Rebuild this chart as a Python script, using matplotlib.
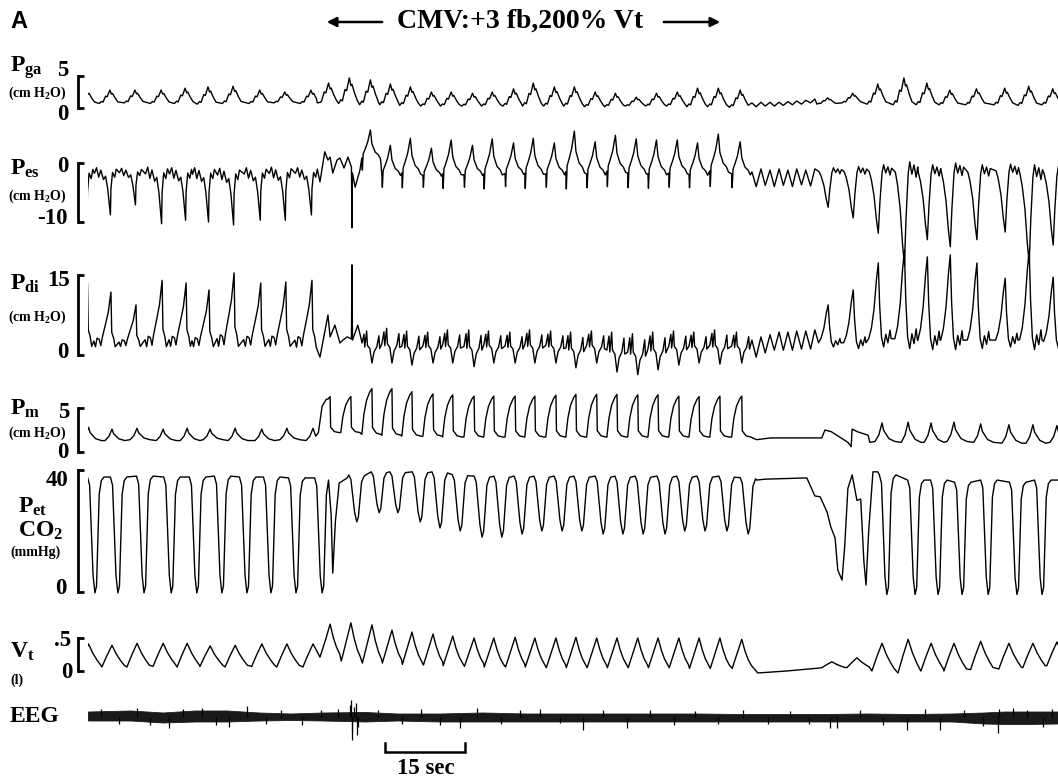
import numpy as np
import matplotlib.pyplot as plt
from matplotlib.patches import FancyArrowPatch

plt.rcParams['font.family'] = ['Liberation Serif', 'DejaVu Serif']
plt.rcParams['font.weight'] = 'bold'
plt.rcParams['mathtext.default'] = 'regular'

# breath times (s, end of inspiration = tidal volume peak)
spont1_t = [0.1, 4.5, 9.2, 14.1, 18.6, 22.9, 27.6, 32.6, 37.3, 42.2]
cmv_t = [45.4, 49.3, 53.25, 57.0, 60.75, 64.7, 68.4, 72.4, 76.1, 80.1, 83.8,
         87.75, 91.5, 95.4, 99.2, 103.1, 106.9, 110.8, 114.6, 118.5, 122.6]
spont3_t = [139.5, 144.2, 148.9, 153.8, 158.1, 162.4, 167.4, 172.7, 177.2, 181.7]
# cardiac ripple during the apnea (s)
ripple_t = [124.5, 125.3, 126.2, 127.0, 127.9, 128.7, 129.6, 130.4, 131.25,
            132.1, 132.9, 133.8, 134.6, 135.5, 136.3]

# Pga (cmH2O)
pga_lo1 = [0.7, 0.7, 0.8, 0.7, 0.7, 0.6, 0.7, 0.7, 0.8, 0.7]
pga_hi1 = [2.8, 2.8, 2.8, 2.8, 3.1, 3.3, 3.4, 2.8, 2.5, 2.8]
pga_lo2 = [0.8, 0.7, 0.5, 0.5, 0.4, 0.3, 0.3, 0.3, 0.3, 0.3, 0.3, 0.3, 0.3, 0.2,
           0.2, 0.3, 0.3, 0.3, 0.2, 0.2, 0.1]
pga_hi2 = [3.9, 4.7, 4.4, 3.75, 3.3, 2.5, 2.5, 2.3, 2.5, 3.0, 3.9, 3.3, 3.3, 2.5,
           2.3, 1.7, 2.3, 2.5, 3.1, 3.1, 2.8]
pga_lo3 = [0.6, 0.8, 0.6, 0.5, 0.5, 0.5, 0.5, 0.5, 0.4, 0.5]
pga_hi3 = [1.6, 2.3, 3.75, 4.7, 3.9, 2.8, 3.0, 3.1, 3.4, 3.0]
pga_fix_t = [43.0, 43.6]
pga_fix_v = [0.8, 0.9]
pga_apnea = [0.8, 0.2, 0.9, 0.3, 0.9, 0.3, 0.9, 0.4, 1.0, 0.5, 1.1, 0.6, 1.2, 0.8, 1.4]

# Pes (cmH2O)
pes_lo1 = [-10.0, -8.8, -7.1, -10.3, -9.7, -10.0, -10.5, -9.7, -9.7, -8.8]
pes_hi1 = [-0.8, -0.8, -0.9, -0.7, -0.8, -0.8, -0.9, -0.8, -0.7, -0.8]
pes_lo2 = [-4.0, -4.0, -1.2, -4.1, -4.2, -4.1, -4.3, -4.1, -4.4, -4.0, -4.3,
           -4.1, -4.4, -4.2, -4.0, -4.2, -4.3, -4.1, -4.2, -4.0, -4.2]
pes_hi2 = [1.0, 1.0, 5.6, 3.0, 4.2, 2.5, 3.9, 3.0, 4.1, 3.4, 4.2, 3.4, 5.4, 3.6,
           4.7, 4.1, 3.9, 3.9, 3.4, 4.9, 3.6]
pes_lo3 = [-7.5, -9.3, -11.9, -17.3, -13.0, -14.2, -13.0, -11.7, -17.0, -13.9]
pes_hi3 = [-0.8, -0.6, -0.3, 0.2, -0.3, 0.0, -0.3, -0.2, -0.3, -0.5]
pes_fix_t = [43.5, 44.4, 45.0, 45.4, 45.9, 46.7, 47.25, 48.0, 48.75, 49.4, 49.5,
             49.6, 50.1, 51.0]
pes_fix_v = [-3.2, 1.9, 0.5, 1.0, -1.7, 0.5, 0.85, -0.85, 1.0, -0.7, -11.0,
             -1.7, -4.1, -1.2]
pes_apnea = [-1.5, -4.0, -1.0, -3.8, -1.2, -4.0, -1.0, -3.8, -1.2, -4.0, -1.0,
             -3.7, -1.2, -3.9, -1.0]

# Pdi (cmH2O)
pdi_lo1 = [1.0, 1.0, 1.2, 0.9, 1.0, 1.0, 0.9, 1.0, 1.0, 0.8]
pdi_hi1 = [13.5, 11.8, 9.4, 14.0, 13.5, 12.2, 15.4, 13.5, 13.7, 14.0]
pdi_lo2 = [-1.5, -1.5, -1.5, -1.5, -1.9, -1.5, -1.5, -2.2, -1.5, -1.5, -1.5,
           -1.5, -2.4, -1.5, -3.2, -3.7, -2.8, -1.9, -1.5, -1.7, -1.5]
pdi_hi2 = [4.5, 4.5, 4.5, 5.0, 4.5, 4.3, 4.7, 4.7, 4.5, 4.3, 4.7, 4.5, 4.3, 4.5,
           4.3, 4.0, 4.3, 4.5, 4.3, 4.7, 4.3]
pdi_lo3 = [1.5, 1.2, 1.5, 1.2, 1.0, 1.0, 1.2, 1.5, 1.0, 1.2]
pdi_hi3 = [9.4, 12.2, 17.25, 19.7, 18.4, 18.75, 17.25, 14.4, 19.7, 14.6]
pdi_fix_t = [43.5, 44.1, 45.0, 45.4, 46.3, 47.25, 47.8, 48.6, 49.4, 49.5, 49.6,
             50.6, 51.4]
pdi_fix_v = [-0.4, 2.8, 7.5, 3.4, 5.6, 2.25, 2.8, 3.4, 3.0, 16.9, 2.8, 5.6, 2.25]
pdi_apnea = [2.8, -0.4, 3.4, 0.4, 3.8, 0.9, 4.3, 0.9, 4.3, 0.9, 4.5, 1.1, 4.5,
             1.1, 4.7]

# Pm (cmH2O)
pm_lo1 = [1.3, 1.3, 1.4, 1.3, 1.3, 1.4, 1.3, 1.3, 1.4, 1.3]
pm_hi1 = [2.8, 2.6, 2.7, 2.6, 2.7, 2.6, 2.7, 2.6, 2.7, 2.7]
pm_lo2 = [2.2, 2.2, 2.0, 1.9, 1.8, 1.8, 1.7, 1.7, 1.7, 1.7, 1.7, 1.7, 1.7, 1.7,
          1.7, 1.7, 1.7, 1.7, 1.7, 1.7, 1.7]
pm_hi2 = [6.3, 6.3, 7.2, 7.2, 6.85, 6.6, 6.5, 6.35, 6.35, 6.35, 6.35, 6.45,
          6.55, 6.55, 6.55, 6.5, 6.5, 6.35, 6.3, 6.35, 6.35]
pm_lo3 = [1.6, 1.1, 1.2, 1.1, 1.1, 1.2, 1.1, 1.0, 1.0, 1.1]
pm_hi3 = [2.5, 2.6, 3.3, 3.4, 3.3, 3.4, 3.2, 3.1, 3.1, 3.0]
pm_fix1_t = [42.7, 43.2, 43.9, 44.7]
pm_fix1_v = [1.8, 2.2, 5.2, 6.0]
pm_fix2_t = [125.4, 128.0, 137.6, 138.2, 139.4, 142.5, 143.1, 143.3, 144.3, 146.3]
pm_fix2_v = [1.4, 1.6, 1.6, 2.5, 2.3, 1.1, 0.6, 2.6, 2.3, 1.9]

# PetCO2 (mmHg): dip times, dip level, plateau level
co2_t1 = [1.3, 5.6, 10.5, 15.6, 20.4, 25.1, 29.8, 34.3, 39.0, 43.9]
co2_lo1 = [-0.3, -0.3, -0.3, -0.3, -0.3, -0.3, -0.3, -0.3, -0.3, -0.3]
co2_hi1 = [37.7, 37.7, 38.0, 37.7, 37.7, 38.0, 37.7, 37.7, 37.4, 37.4]
co2_t2 = [50.4, 54.6, 58.1, 62.3, 66.0, 69.8, 73.9, 77.6, 81.4, 85.1, 88.9,
          92.6, 96.6, 100.3, 104.1, 108.2, 111.9, 115.7, 119.8, 123.8]
co2_lo2 = [23, 26, 26, 23, 21, 20, 18, 18, 19, 20, 20, 20, 19, 19, 19, 19, 20,
           20, 20, 19]
co2_hi2 = [38.4, 39.4, 39.4, 39.4, 39.4, 38.5, 38, 38, 38, 38, 38, 38, 38, 38,
           38, 38, 38, 38, 38, 37.5]
co2_t3 = [149.8, 155.1, 159.4, 163.9, 168.8, 174.2, 178.9]
co2_lo3 = [-0.8, -0.8, -0.8, -0.8, -0.8, -0.8, -0.8]
co2_hi3 = [38.4, 36.7, 36.7, 36.0, 36.7, 36.0, 36.7]
co2_fix1_t = [45.1, 45.6, 45.9, 46.4, 47.1, 48.6]
co2_fix1_v = [36.7, 25.2, 6.2, 23.3, 35.7, 37.4]
co2_fix2_t = [125.4, 127.0, 134.8, 136.3, 137.3, 138.6, 139.3, 140.1, 140.6,
              141.4, 141.9, 142.5, 143.3, 144.2, 144.9, 145.5, 145.9, 146.4,
              147.2, 148.1]
co2_fix2_v = [36.7, 37.0, 37.4, 31.5, 31.2, 26.2, 21.3, 17.7, 7.2, 3.9, 15, 34,
              38.4, 30.0, 30.5, 10, 2.3, 20, 39.4, 39.4]

# Vt (l)
vt_lo1 = [0.06, 0.06, 0.06, 0.07, 0.06, 0.07, 0.06, 0.07, 0.06, 0.06]
vt_hi1 = [0.41, 0.39, 0.42, 0.42, 0.42, 0.38, 0.39, 0.41, 0.41, 0.41]
vt_lo2 = [0.21, 0.15, 0.12, 0.12, 0.10, 0.09, 0.08, 0.07, 0.06, 0.06, 0.06,
          0.05, 0.05, 0.05, 0.05, 0.05, 0.05, 0.05, 0.04, 0.04, 0.04]
vt_hi2 = [0.71, 0.73, 0.70, 0.62, 0.59, 0.56, 0.53, 0.50, 0.50, 0.51, 0.50,
          0.50, 0.51, 0.50, 0.50, 0.50, 0.50, 0.50, 0.50, 0.50, 0.48]
vt_lo3 = [0.05, 0.05, 0.00, -0.03, 0.00, 0.00, 0.02, 0.03, 0.05, 0.08]
vt_hi3 = [0.14, 0.20, 0.42, 0.48, 0.42, 0.42, 0.45, 0.42, 0.42, 0.44]
vt_fix1_t = [42.8, 43.5, 44.5]
vt_fix1_v = [0.32, 0.21, 0.46]
vt_fix2_t = [125.6, 131.0, 136.5]
vt_fix2_v = [-0.03, 0.0, 0.04]

# EEG (uV): envelope of the dense trace and single deflections
eeg_t = [0, 8, 14, 20, 26, 32, 38, 44, 52, 58, 66, 74, 82, 90, 98, 106, 114,
         122, 130, 138, 146, 154, 162, 168, 172, 176, 182]
eeg_up = [5.5, 6.5, 4.5, 6.5, 6.5, 4.5, 3.5, 4.5, 5, 3.5, 3.5, 4.5, 3.5, 3.5,
          3.5, 3.5, 3.5, 3, 3, 3, 3.5, 3, 3.5, 4.5, 5.5, 5.5, 5.5]
eeg_dn = [-3.5, -3.5, -5.5, -4.5, -4.5, -3.5, -3, -3.5, -4.5, -3.5, -4.5, -4.5,
          -4.5, -4.5, -4.5, -4.5, -4.5, -4.5, -4.5, -4.5, -4.5, -4.5, -4.5,
          -6.5, -7, -7, -6.5]
eeg_spk_t = [2.5, 5.8, 9.1, 11.7, 15.2, 17.9, 21.3, 24.0, 26.5, 29.9, 33.4,
             36.2, 40.1, 43.6, 46.8, 49.2, 49.4, 49.5, 49.6, 49.8, 50.2, 50.4,
             50.7, 54.3, 58.8, 62.5, 66.1, 69.8, 72.9, 77.4, 81.0, 84.8, 88.6,
             92.8, 96.5, 101.1, 105.3, 109.9, 113.8, 118.2, 122.9, 127.5, 131.6,
             135.2, 139.1, 140.4, 144.7, 149.0, 153.6, 156.9, 159.8, 164.2,
             167.8, 170.6, 170.8, 173.5, 176.1, 179.1, 180.8]
eeg_spk_v = [8, -7, 9, -8, -11, 8, 9, -8, -10, 11, -7, 7, -8, 7, 8, 12, 17, -15,
             -23, 10, 14, -18, -10, 7, -7, 8, -8, -11, 9, -7, 7, 8, -6, -13, 7,
             -11, 7, -8, 6, -7, 7, -7, 6, -7, -11, -11, 7, -8, -13, 8, -13, 7,
             -9, -16, 8, 9, 7, -10, 8]

# waveform shapes within one breath: (time offset s, fraction lo->hi)
VT_SP = [(-1.9, 0.0), (-1.0, 0.5), (0.0, 1.0), (0.8, 0.6), (1.6, 0.3), (2.3, 0.08)]
VT_CMV = [(-1.8, 0.0), (-0.9, 0.5), (0.0, 1.0), (0.6, 0.6), (1.2, 0.3), (1.8, 0.1)]
PGA = [(-2.0, 0.0), (-1.6, 0.15), (-1.3, 0.1), (-0.8, 0.55), (-0.5, 0.5),
       (0.0, 1.0), (0.3, 0.7), (0.5, 0.75), (1.0, 0.4), (1.5, 0.12)]
PES_SP = [(-3.0, 0.88), (-2.6, 1.0), (-2.2, 0.8), (-1.8, 0.95), (-1.3, 0.75),
          (-0.9, 0.82), (-0.5, 0.55), (0.0, 0.0), (0.1, 0.55), (0.4, 0.9),
          (0.8, 0.8), (1.1, 0.97)]
PES_CMV = [(-1.6, 0.3), (-1.5, 0.0), (-1.35, 0.4), (-0.9, 0.55), (-0.5, 0.7),
           (0.0, 1.0), (0.3, 0.65), (0.9, 0.45), (1.5, 0.38), (1.9, 0.28)]
PES_SP3 = [(-1.7, 0.9), (-1.3, 0.78), (-0.8, 0.55), (-0.35, 0.2), (0.0, 0.0),
           (0.3, 0.45), (0.7, 0.88), (1.0, 1.0), (1.4, 0.88), (1.8, 0.97),
           (2.2, 0.85), (2.5, 0.95)]
PDI_SP = [(-3.2, 0.15), (-2.9, 0.05), (-2.6, 0.2), (-2.2, 0.18), (-1.9, 0.07),
          (-1.6, 0.22), (-1.0, 0.45), (-0.5, 0.65), (0.0, 1.0), (0.15, 0.3),
          (0.5, 0.2), (0.8, 0.05)]
PDI_CMV = [(-1.9, 0.55), (-1.5, 0.9), (-1.35, 0.5), (-1.0, 1.0), (-0.85, 0.55),
           (-0.4, 0.45), (0.0, 0.0), (0.4, 0.35), (0.9, 0.5), (1.3, 0.85),
           (1.45, 0.45)]
PDI_SP3 = [(-1.8, 0.1), (-1.3, 0.22), (-0.8, 0.45), (-0.35, 0.8), (0.0, 1.0),
           (0.25, 0.5), (0.6, 0.12), (1.0, 0.0), (1.4, 0.15), (1.8, 0.05),
           (2.2, 0.2), (2.4, 0.1)]
PM_SP = [(-1.3, 0.0), (-0.6, 0.35), (0.0, 1.0), (0.3, 0.6), (1.3, 0.15), (2.4, 0.0)]
PM_CMV = [(-1.9, 0.0), (-1.5, 0.45), (-1.0, 0.75), (-0.4, 0.93), (0.0, 1.0),
          (0.1, 0.15), (0.8, 0.03), (1.7, 0.0)]
CO2_SP = [(-1.4, 1.0), (-1.0, 0.93), (-0.35, 0.15), (0.0, 0.0), (0.3, 0.06),
          (0.8, 0.85), (1.2, 0.97), (1.7, 1.0)]
CO2_CMV = [(-1.5, 1.0), (-1.1, 0.9), (-0.4, 0.2), (0.0, 0.0), (0.3, 0.1),
           (0.9, 0.85), (1.4, 0.98)]

W, H = 1058, 779
T_END = 181.9


def breaths(times, lo, hi, shape, shift=0.0):
    t, v = [], []
    for tb, a, b in zip(times, lo, hi):
        for dt, f in shape:
            t.append(tb + shift + dt)
            v.append(a + f * (b - a))
    return t, v


def build(parts, fixes=()):
    t = np.concatenate([np.asarray(p[0], float) for p in parts])
    v = np.concatenate([np.asarray(p[1], float) for p in parts])
    for ft, fv in fixes:
        keep = (t < ft[0]) | (t > ft[-1])
        t = np.concatenate([t[keep], ft])
        v = np.concatenate([v[keep], fv])
    o = np.argsort(t, kind='stable')
    t, v = t[o], v[o]
    if t[-1] < T_END:
        t = np.append(t, T_END + 1)
        v = np.append(v, v[-1])
    return t, v


fig = plt.figure(figsize=(W / 100, H / 100), dpi=100)


def band(top, bot, y_hi=None, v_hi=None, y_lo=None, v_lo=None, lim=None):
    ax = fig.add_axes([88 / W, 1 - bot / H, 970 / W, (bot - top) / H])
    ax.patch.set_alpha(0)
    ax.set_xlim(0, T_END)
    ax.set_xticks([])
    for sp in ['top', 'right', 'bottom']:
        ax.spines[sp].set_visible(False)
    if lim is not None:
        ax.set_ylim(*lim)
        ax.spines['left'].set_visible(False)
        ax.set_yticks([])
        return ax
    s = (v_hi - v_lo) / (y_lo - y_hi)
    ax.set_ylim(v_lo - (bot - y_lo) * s, v_hi + (y_hi - top) * s)
    ax.spines['left'].set_position(('outward', 7.5))
    ax.spines['left'].set_bounds(v_lo, v_hi)
    ax.spines['left'].set_linewidth(2.0)
    ax.set_yticks([v_lo, v_hi])
    ax.set_yticklabels([])
    ax.tick_params(axis='y', direction='in', length=4.5, width=2.0)
    return ax


LW = 1.0

ax = band(55, 130, 76, 5, 108, 0)
t, v = build([breaths(spont1_t, pga_lo1, pga_hi1, PGA, -0.4),
              breaths(cmv_t, pga_lo2, pga_hi2, PGA, -0.3),
              breaths(spont3_t, pga_lo3, pga_hi3, PGA, -0.8)],
             [(pga_fix_t, pga_fix_v), (ripple_t, pga_apnea)])
ax.plot(t, v, color='k', lw=LW)

ax = band(120, 285, 163, 0, 222, -10)
t, v = build([breaths(spont1_t, pes_lo1, pes_hi1, PES_SP, -0.3),
              breaths(cmv_t, pes_lo2, pes_hi2, PES_CMV, -0.3),
              breaths(spont3_t, pes_lo3, pes_hi3, PES_SP3, -0.7)],
             [(pes_fix_t, pes_fix_v), (ripple_t, pes_apnea)])
ax.plot(t, v, color='k', lw=LW)

ax = band(240, 385, 275, 15, 355, 0)
t, v = build([breaths(spont1_t, pdi_lo1, pdi_hi1, PDI_SP, -0.2),
              breaths(cmv_t, pdi_lo2, pdi_hi2, PDI_CMV, 0.0),
              breaths(spont3_t, pdi_lo3, pdi_hi3, PDI_SP3, -0.7)],
             [(pdi_fix_t, pdi_fix_v), (ripple_t, pdi_apnea)])
ax.plot(t, v, color='k', lw=LW)

ax = band(375, 462, 408, 5, 452, 0)
t, v = build([breaths(spont1_t, pm_lo1, pm_hi1, PM_SP),
              breaths(cmv_t, pm_lo2, pm_hi2, PM_CMV),
              breaths(spont3_t, pm_lo3, pm_hi3, PM_SP)],
             [(pm_fix1_t, pm_fix1_v), (pm_fix2_t, pm_fix2_v)])
ax.plot(t, v, color='k', lw=LW)

ax = band(462, 605, 470, 40, 592, 0)
t, v = build([breaths(co2_t1, co2_lo1, co2_hi1, CO2_SP),
              breaths(co2_t2, co2_lo2, co2_hi2, CO2_CMV),
              breaths(co2_t3, co2_lo3, co2_hi3, CO2_SP)],
             [(co2_fix1_t, co2_fix1_v), (co2_fix2_t, co2_fix2_v)])
ax.plot(t, v, color='k', lw=LW)

ax = band(612, 690, 638, 0.5, 671, 0)
t, v = build([breaths(spont1_t, vt_lo1, vt_hi1, VT_SP),
              breaths(cmv_t, vt_lo2, vt_hi2, VT_CMV),
              breaths(spont3_t, vt_lo3, vt_hi3, VT_SP)],
             [(vt_fix1_t, vt_fix1_v), (vt_fix2_t, vt_fix2_v)])
ax.plot(t, v, color='k', lw=LW)
ax.set_yticks([0, 0.5])

ax = band(692, 742, lim=(-25, 25))
ax.fill_between(eeg_t, eeg_dn, eeg_up, color='#1a1a1a', lw=0.6)
ax.vlines(eeg_spk_t, 0, eeg_spk_v, color='k', lw=0.9)

# 15 s time bar
ax = band(735, 779, lim=(0, 1))
ax.plot([55.7, 55.7, 55.7 + 15, 55.7 + 15], [0.82, 0.61, 0.61, 0.82],
        color='k', lw=1.8, solid_joinstyle='miter')
fig.text(426 / W, 1 - 768 / H, '15 sec', ha='center', va='center', size=16.5)

# panel letter and title
fig.text(10 / W, 1 - 22 / H, 'A', family='Liberation Sans', weight='bold',
         size=17, ha='left', va='center')
fig.text(397 / W, 1 - 21 / H, 'CMV:+3 fb,200% Vt', ha='left', va='center',
         size=20)
for a, b in [(385, 324), (661, 723)]:
    fig.patches.append(FancyArrowPatch((a / W, 1 - 22 / H), (b / W, 1 - 22 / H),
                                       transform=fig.transFigure,
                                       arrowstyle='-|>', mutation_scale=14,
                                       lw=1.8, color='k'))

# channel names
NS = 17
fig.text(10 / W, 1 - 72 / H, r'$P_{ga}$', size=NS, ha='left', va='baseline')
fig.text(10 / W, 1 - 175 / H, r'$P_{es}$', size=NS, ha='left', va='baseline')
fig.text(10 / W, 1 - 290 / H, r'$P_{di}$', size=NS, ha='left', va='baseline')
fig.text(10 / W, 1 - 415 / H, r'$P_{m}$', size=NS, ha='left', va='baseline')
fig.text(18 / W, 1 - 513 / H, r'$P_{et}$', size=NS, ha='left', va='baseline')
fig.text(18 / W, 1 - 537 / H, r'$CO_2$', size=NS, ha='left', va='baseline')
fig.text(10 / W, 1 - 658 / H, r'$V_{t}$', size=NS, ha='left', va='baseline')
fig.text(10 / W, 1 - 717 / H, 'EEG', size=NS, ha='left', va='center')

US = 10
for y in [93, 196, 317, 433]:
    fig.text(8 / W, 1 - y / H, r'(cm H$_2$O)', size=US, ha='left', va='center')
fig.text(10 / W, 1 - 552 / H, '(mmHg)', size=US, ha='left', va='center')
fig.text(10 / W, 1 - 680 / H, '(l)', size=US, ha='left', va='center')

# scale values next to the brackets
VS = 16.5
for x, y, s in [(68, 70, '5'), (68, 114, '0'), (68, 167, '0'), (68, 218, '-10'),
                (70, 280, '15'), (68, 352, '0'), (69, 413, '5'), (68, 453, '0'),
                (68, 481, '40'), (66, 588, '0'), (71, 641, '.5'), (73, 672, '0')]:
    fig.text(x / W, 1 - y / H, s, size=VS, ha='right', va='center')

fig.savefig('out.png', dpi=100)
